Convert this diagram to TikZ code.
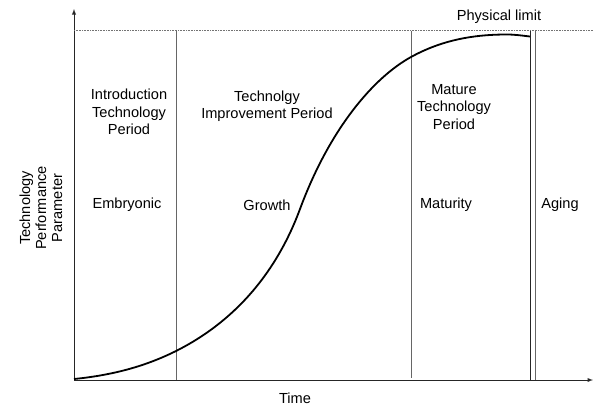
\documentclass[tikz,border=0pt]{standalone}
\usepackage{fontspec}
\setmainfont{Liberation Sans}
\usetikzlibrary{arrows,positioning}
\begin{document}
\begin{tikzpicture}[
  x=1pt, y=-1pt,
  every node/.style={align=center, inner sep=0, font=\fontsize{14.6}{17.5}\selectfont},
  axis/.style={draw=black!85, line width=0.9pt, -latex},
  divider/.style={draw=black!60, line width=0.8pt},
  limit/.style={draw=black!55, densely dotted, line width=0.6pt},
  curve/.style={draw=black, line width=1.8pt}
]
\useasboundingbox (0,0) rectangle (593,408);
% axes
\coordinate (origin) at (74,380);
\coordinate (ytop) at (74,9);
\coordinate (xend) at (593,380);
\draw[axis] (origin) -- (ytop);
\draw[axis] (origin) -- (xend);
% physical limit
\coordinate (limstart) at (74,30.5);
\coordinate (limend) at (593,30.5);
\draw[limit] (limstart) -- (limend);
\node (limit) at (499,17) {Physical limit};
% period dividers
\coordinate (d1top) at (176,30.5);  \coordinate (d1bot) at (176,380);
\coordinate (d2top) at (411,30.5);  \coordinate (d2bot) at (411,378);
\coordinate (d3top) at (530.5,30.5); \coordinate (d3bot) at (530.5,380);
\coordinate (d4top) at (535.5,30.5); \coordinate (d4bot) at (535.5,380);
\draw[divider] (d1top) -- (d1bot);
\draw[divider] (d2top) -- (d2bot);
\draw[divider, draw=black!85] (d3top) -- (d3bot);
\draw[divider] (d4top) -- (d4bot);
% s-curve
\coordinate (c0) at (74,379);
\coordinate (c1) at (176,351);
\coordinate (c2) at (300,209);
\coordinate (c3) at (411,57);
\coordinate (c4) at (507,34.5);
\coordinate (c5) at (530,36.5);
\draw[curve] (c0) .. controls (108,375.6) and (142,368) .. (c1)
  .. controls (217.3,330.3) and (270,290) .. (c2)
  .. controls (330,128) and (374,77.4) .. (c3)
  .. controls (443,39.4) and (475,34.5) .. (c4)
  .. controls (515,34.5) and (522,35.6) .. (c5);
% labels
\node (intro) at (129,112) {Introduction\\Technology\\Period};
\node (improve) at (267,106) {Technolgy\\Improvement Period};
\node (mature) at (454,107) {Mature\\Technology\\Period};
\node (embryo) at (127,205) {Embryonic};
\node (growth) at (267,205) {Growth};
\node (maturity) at (446,205) {Maturity};
\node (aging) at (560,205) {Aging};
\node (time) at (295,398) {Time};
\node[rotate=90, font=\fontsize{14.6}{16}\selectfont] (param) at (41,208)
  {Technology\\Performance\\Parameter};
\end{tikzpicture}
\end{document}
